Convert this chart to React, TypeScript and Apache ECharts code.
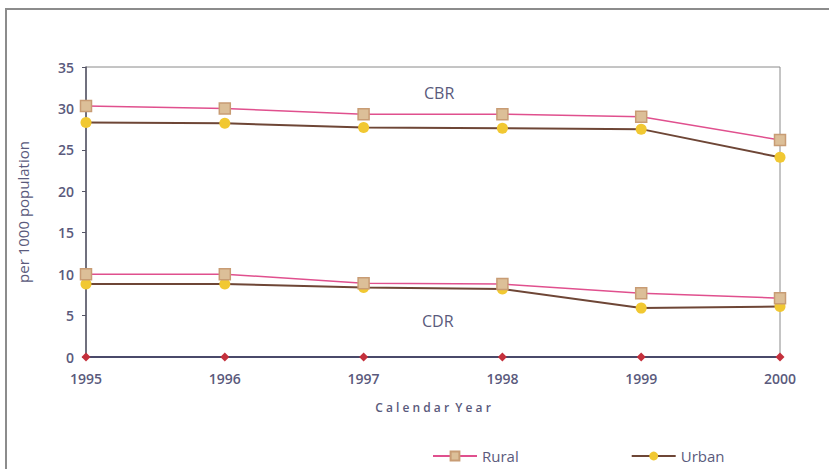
import React, { useEffect, useRef } from "react";
import * as echarts from "echarts";

const years = ["1995", "1996", "1997", "1998", "1999", "2000"];
const ruralCBR = [30.3, 30.0, 29.3, 29.3, 29.0, 26.2];
const urbanCBR = [28.3, 28.2, 27.7, 27.6, 27.5, 24.1];
const ruralCDR = [10.0, 10.0, 8.9, 8.8, 7.7, 7.1];
const urbanCDR = [8.8, 8.8, 8.4, 8.2, 5.9, 6.1];
const zeroLine = [0, 0, 0, 0, 0, 0];

const textColor = "#5a5a7c";
const ruralLine = "#e0508e";
const urbanLine = "#6e4636";
const font = "'Open Sans', 'Noto Sans', sans-serif";

export default function App() {
  const ref = useRef<HTMLDivElement>(null);
  useEffect(() => {
    if (!ref.current) return;
    const chart = echarts.init(ref.current, null, { renderer: "svg" });
    const rural = {
      type: "line",
      name: "Rural",
      symbol: "rect",
      symbolSize: 11,
      lineStyle: { color: ruralLine, width: 1.5 },
      itemStyle: { color: "#dcbf98", borderColor: "#c89c74", borderWidth: 1.5 },
      z: 3,
    };
    const urban = {
      type: "line",
      name: "Urban",
      symbol: "circle",
      symbolSize: 11,
      lineStyle: { color: urbanLine, width: 2 },
      itemStyle: { color: "#f1c832" },
      z: 2,
    };
    chart.setOption({
      animation: false,
      backgroundColor: "#ffffff",
      textStyle: { fontFamily: font },
      grid: { left: 86, right: 49, top: 67, bottom: 112, show: true, borderColor: "#8a8a8a", borderWidth: 1 },
      xAxis: {
        type: "category",
        data: years,
        boundaryGap: false,
        axisLine: { lineStyle: { color: "#4a4a6a", width: 2 } },
        axisTick: { show: false },
        axisLabel: { color: textColor, fontSize: 14, fontWeight: 600, margin: 14, fontFamily: font },
        name: "C a l e n d a r  Y e a r",
        nameLocation: "middle",
        nameGap: 44,
        nameTextStyle: { color: textColor, fontSize: 12, fontWeight: 600, fontFamily: font },
      },
      yAxis: {
        type: "value",
        min: 0,
        max: 35,
        interval: 5,
        splitLine: { show: false },
        axisLine: { show: true, lineStyle: { color: "#555566", width: 1.5 } },
        axisTick: { show: true, length: 4, lineStyle: { color: "#555566" } },
        axisLabel: { color: textColor, fontSize: 14, fontWeight: 600, margin: 12, fontFamily: font },
        name: "per 1000 population",
        nameLocation: "middle",
        nameGap: 56,
        nameRotate: 90,
        nameTextStyle: { color: textColor, fontSize: 15, fontFamily: font },
      },
      legend: {
        data: ["Rural", "Urban"],
        left: 432,
        top: 447,
        padding: 0,
        itemWidth: 44,
        itemHeight: 11,
        itemGap: 112,
        textStyle: { color: textColor, fontSize: 15, fontFamily: font, lineHeight: 18 },
      },
      series: [
        { ...rural, data: ruralCBR },
        { ...urban, data: urbanCBR },
        { ...rural, data: ruralCDR },
        { ...urban, data: urbanCDR },
        {
          type: "line",
          name: "Zero",
          data: zeroLine,
          symbol: "diamond",
          symbolSize: 9,
          lineStyle: { color: "#4a4a6a", width: 2 },
          itemStyle: { color: "#c4303c" },
          z: 4,
        },
      ],
      graphic: [
        { type: "rect", shape: { x: 6, y: 9, width: 840, height: 480 }, style: { fill: "none", stroke: "#8c8c8c", lineWidth: 2 }, silent: true },
        { type: "text", left: 424, top: 85, style: { text: "CBR", fill: textColor, fontSize: 16, fontFamily: font } },
        { type: "text", left: 422, top: 313, style: { text: "CDR", fill: textColor, fontSize: 16, fontFamily: font } },
      ],
    });
    return () => chart.dispose();
  }, []);
  return <div ref={ref} style={{ width: 829, height: 469, position: "absolute", left: 0, top: 0 }} />;
}
